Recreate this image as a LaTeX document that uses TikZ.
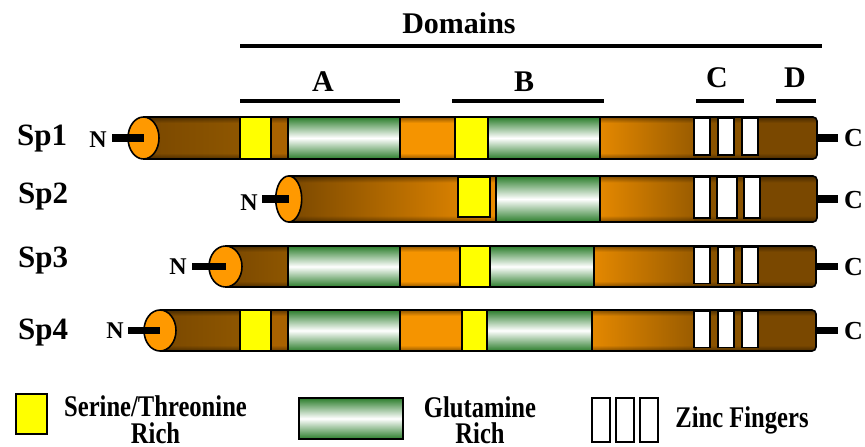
\documentclass[tikz,border=0pt]{standalone}
\usepackage{fontspec}
\setmainfont{Liberation Serif}
\newfontfamily\legfont{Liberation Serif}[FakeStretch=0.82]

\definecolor{dkbrown}{HTML}{7A4800}
\definecolor{mdbrown}{HTML}{8E5600}
\definecolor{rbrown}{HTML}{A86200}
\definecolor{zbrown}{HTML}{8A5300}
\definecolor{orng}{HTML}{F59400}
\definecolor{orngA}{HTML}{E48800}
\definecolor{orngB}{HTML}{EC8C00}
\definecolor{brownB}{HTML}{9A5C00}
\definecolor{ellorng}{HTML}{FF9900}
\definecolor{ylw}{HTML}{FFFF00}
\definecolor{grn}{HTML}{2B7D2B}

% darker rim at the top and bottom of each protein cylinder (used with multiply)
\pgfdeclareverticalshading{cylrim}{100bp}{color(0bp)=(black!42); color(25bp)=(black!42);
  color(32bp)=(white); color(68bp)=(white); color(75bp)=(black!42); color(100bp)=(black!42)}

\begin{document}
\begin{tikzpicture}[x=1pt,y=-1pt,
  outl/.style={draw=black, line width=1.6pt},
  stbox/.style={outl, fill=ylw},
  qbox/.style={outl, top color=grn, bottom color=grn, middle color=white},
  znbox/.style={outl, fill=white},
  endcap/.style={outl, fill=ellorng},
  stick/.style={line width=7.5pt},
  rule/.style={line width=4pt},
  rim/.style={shading=cylrim},
  hdr/.style={font=\fontsize{30}{30}\selectfont\bfseries, inner sep=0},
  splbl/.style={font=\fontsize{31}{31}\selectfont\bfseries, inner sep=0, anchor=base west},
  nlbl/.style={font=\fontsize{24}{24}\selectfont\bfseries, inner sep=0, anchor=base east},
  clbl/.style={font=\fontsize{26}{26}\selectfont\bfseries, inner sep=0, anchor=base west},
  leg/.style={font=\legfont\fontsize{30}{26.5}\selectfont\bfseries, inner sep=0, align=center},
]
\useasboundingbox (0,0) rectangle (865,447);

% ---------- domain header ----------
\node[hdr, anchor=base] (dom) at (459,34) {Domains};
\draw[rule] (240,46) -- (822,46);
\node[hdr, anchor=base] (dA) at (323,91) {A};
\node[hdr, anchor=base] (dB) at (524,91) {B};
\node[hdr, anchor=base] (dC) at (717,87) {C};
\node[hdr, anchor=base] (dD) at (795,87) {D};
\draw[rule] (240,101) -- (400,101);
\draw[rule] (452,101) -- (604,101);
\draw[rule] (696,101) -- (744,101);
\draw[rule] (776,101) -- (816,101);

% ---------- Sp1 ----------
\begin{scope}
\def\yt{117}\def\yb{159}\def\ym{138}\def\xl{143.5}\def\xr{817}
\begin{scope}
  \clip[rounded corners=4pt] (\xl-20,\yt) rectangle (\xr,\yb);
  \shade[left color=dkbrown, right color=mdbrown] (\xl,\yt) rectangle (240,\yb);
  \fill[rbrown] (240,\yt) rectangle (288,\yb);
  \fill[orng] (288,\yt) rectangle (600,\yb);
  \shade[left color=orngA, right color=brownB] (600,\yt) rectangle (694,\yb);
  \fill[zbrown] (694,\yt) rectangle (758,\yb);
  \fill[dkbrown] (758,\yt) rectangle (\xr+5,\yb);
  \begin{scope}[blend mode=multiply]
    \shade[rim] (\xl,\yt) rectangle (\xr+5,\yb);
  \end{scope}
\end{scope}
\draw[stbox] (240,\yt) rectangle (271,\yb);
\draw[qbox] (288,\yt) rectangle (400,\yb);
\draw[stbox] (455,\yt) rectangle (488,\yb);
\draw[qbox] (488,\yt) rectangle (600,\yb);
\draw[znbox] (694,\yt+1) rectangle (710,\yb-4);
\draw[znbox] (718,\yt+1) rectangle (734,\yb-4);
\draw[znbox] (742,\yt+1) rectangle (758,\yb-4);
\draw[outl, rounded corners=4pt] (\xl,\yt) -- (\xr,\yt) -- (\xr,\yb) -- (\xl,\yb);
\draw[endcap] (\xl,\ym) ellipse [x radius=15.5, y radius=21];
\coordinate (e1) at (\xl,\ym);
\coordinate (t1) at (\xr,\ym);
\end{scope}
\node[splbl] (sp1) at (17,145) {Sp1};
\node[nlbl] (n1) at (107,147) {N};
\coordinate (n1s) at (112,138);
\draw[stick] (n1s) -- (e1);
\node[clbl] (c1) at (844,146.5) {C};
\coordinate (c1s) at (838,138);
\draw[stick] (t1) -- (c1s);

% ---------- Sp2 ----------
\begin{scope}
\def\yt{176}\def\yb{222}\def\ym{199}\def\xl{288.7}\def\xr{817}
\begin{scope}
  \clip[rounded corners=4pt] (\xl-20,\yt) rectangle (\xr,\yb);
  \shade[left color=dkbrown, right color=orngB] (\xl,\yt) rectangle (496,\yb);
  \fill[orng] (496,\yt) rectangle (600,\yb);
  \shade[left color=orngA, right color=brownB] (600,\yt) rectangle (694,\yb);
  \fill[zbrown] (694,\yt) rectangle (760,\yb);
  \fill[dkbrown] (760,\yt) rectangle (\xr+5,\yb);
  \begin{scope}[blend mode=multiply]
    \shade[rim] (\xl,\yt) rectangle (\xr+5,\yb);
  \end{scope}
\end{scope}
\draw[stbox] (458,177) rectangle (490,217);
\draw[qbox] (496,\yt) rectangle (600,\yb);
\draw[znbox] (694,\yt+1) rectangle (710,\yb-4);
\draw[znbox] (717,\yt+1) rectangle (737,\yb-4);
\draw[znbox] (744,\yt+1) rectangle (760,\yb-4);
\draw[outl, rounded corners=4pt] (\xl,\yt) -- (\xr,\yt) -- (\xr,\yb) -- (\xl,\yb);
\draw[endcap] (\xl,\ym) ellipse [x radius=13, y radius=23];
\coordinate (e2) at (\xl,\ym);
\coordinate (t2) at (\xr,\ym);
\end{scope}
\node[splbl] (sp2) at (18,203) {Sp2};
\node[nlbl] (n2) at (258,210) {N};
\coordinate (n2s) at (262,199);
\draw[stick] (n2s) -- (e2);
\node[clbl] (c2) at (844,208) {C};
\coordinate (c2s) at (838,199);
\draw[stick] (t2) -- (c2s);

% ---------- Sp3 ----------
\begin{scope}
\def\yt{246}\def\yb{287}\def\ym{266.5}\def\xl{225.5}\def\xr{816}
\begin{scope}
  \clip[rounded corners=4pt] (\xl-20,\yt) rectangle (\xr,\yb);
  \shade[left color=dkbrown, right color=mdbrown] (\xl,\yt) rectangle (288,\yb);
  \fill[orng] (288,\yt) rectangle (594,\yb);
  \shade[left color=orngA, right color=brownB] (594,\yt) rectangle (694,\yb);
  \fill[zbrown] (694,\yt) rectangle (758,\yb);
  \fill[dkbrown] (758,\yt) rectangle (\xr+5,\yb);
  \begin{scope}[blend mode=multiply]
    \shade[rim] (\xl,\yt) rectangle (\xr+5,\yb);
  \end{scope}
\end{scope}
\draw[qbox] (288,\yt) rectangle (400,\yb);
\draw[stbox] (460,\yt) rectangle (490,\yb);
\draw[qbox] (490,\yt) rectangle (594,\yb);
\draw[znbox] (694,\yt+1.5) rectangle (710,\yb-3.5);
\draw[znbox] (718,\yt+1.5) rectangle (734,\yb-3.5);
\draw[znbox] (742,\yt+1.5) rectangle (758,\yb-3.5);
\draw[outl, rounded corners=4pt] (\xl,\yt) -- (\xr,\yt) -- (\xr,\yb) -- (\xl,\yb);
\draw[endcap] (\xl,\ym) ellipse [x radius=16.5, y radius=20.5];
\coordinate (e3) at (\xl,\ym);
\coordinate (t3) at (\xr,\ym);
\end{scope}
\node[splbl] (sp3) at (18,267) {Sp3};
\node[nlbl] (n3) at (187,274) {N};
\coordinate (n3s) at (192,266.5);
\draw[stick] (n3s) -- (e3);
\node[clbl] (c3) at (844,275.5) {C};
\coordinate (c3s) at (838,266.5);
\draw[stick] (t3) -- (c3s);

% ---------- Sp4 ----------
\begin{scope}
\def\yt{310}\def\yb{351}\def\ym{330.5}\def\xl{160}\def\xr{816}
\begin{scope}
  \clip[rounded corners=4pt] (\xl-20,\yt) rectangle (\xr,\yb);
  \shade[left color=dkbrown, right color=mdbrown] (\xl,\yt) rectangle (240,\yb);
  \fill[rbrown] (240,\yt) rectangle (288,\yb);
  \fill[orng] (288,\yt) rectangle (592,\yb);
  \shade[left color=orngA, right color=brownB] (592,\yt) rectangle (694,\yb);
  \fill[zbrown] (694,\yt) rectangle (758,\yb);
  \fill[dkbrown] (758,\yt) rectangle (\xr+5,\yb);
  \begin{scope}[blend mode=multiply]
    \shade[rim] (\xl,\yt) rectangle (\xr+5,\yb);
  \end{scope}
\end{scope}
\draw[stbox] (240,\yt) rectangle (271,\yb);
\draw[qbox] (288,\yt) rectangle (400,\yb);
\draw[stbox] (462,\yt) rectangle (487,\yb);
\draw[qbox] (487,\yt) rectangle (592,\yb);
\draw[znbox] (694,\yt+1.5) rectangle (710,\yb-3.5);
\draw[znbox] (718,\yt+1.5) rectangle (734,\yb-3.5);
\draw[znbox] (742,\yt+1.5) rectangle (758,\yb-3.5);
\draw[outl, rounded corners=4pt] (\xl,\yt) -- (\xr,\yt) -- (\xr,\yb) -- (\xl,\yb);
\draw[endcap] (\xl,\ym) ellipse [x radius=16, y radius=20.5];
\coordinate (e4) at (\xl,\ym);
\coordinate (t4) at (\xr,\ym);
\end{scope}
\node[splbl] (sp4) at (18,339) {Sp4};
\node[nlbl] (n4) at (124,338) {N};
\coordinate (n4s) at (128,330.5);
\draw[stick] (n4s) -- (e4);
\node[clbl] (c4) at (844,339.5) {C};
\coordinate (c4s) at (838,330.5);
\draw[stick] (t4) -- (c4s);

% ---------- legend ----------
\draw[stbox] (16,394) rectangle (47,434);
\node[leg, anchor=north] (lst) at (155.5,395.5) {Serine/Threonine\\Rich};
\draw[qbox] (299,398) rectangle (403,439);
\node[leg, anchor=north] (lq) at (480,396) {Glutamine\\Rich};
\draw[znbox] (592,398) rectangle (610,442);
\draw[znbox] (616,398) rectangle (634,442);
\draw[znbox] (640,398) rectangle (658,442);
\node[leg, anchor=base] (lz) at (742,427) {Zinc Fingers};
\end{tikzpicture}
\end{document}
